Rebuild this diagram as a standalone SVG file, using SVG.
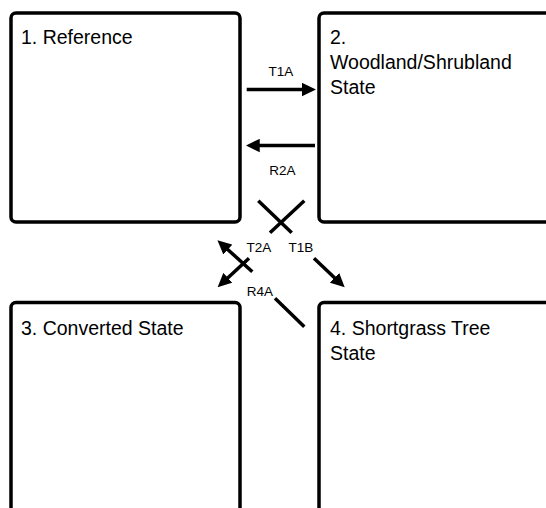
<svg xmlns="http://www.w3.org/2000/svg" width="546" height="508" viewBox="0 0 546 508">
<style>
.box{fill:#fff;stroke:#000;stroke-width:3.5}
.t{font-family:"Liberation Sans",Arial,sans-serif;font-size:19.5px;fill:#000}
.lbl{font-family:"Liberation Sans",Arial,sans-serif;font-size:13.5px;fill:#000;text-anchor:middle}
.c{stroke:#000;stroke-width:3.5;fill:none}
.a{marker-end:url(#ah)}
</style>
<defs>
<marker id="ah" markerUnits="userSpaceOnUse" markerWidth="14" markerHeight="14" viewBox="0 0 12.5 12" refX="4.5" refY="6" orient="auto">
<path d="M0,0 L12.5,6 L0,12 z" fill="#000"/>
</marker>
</defs>
<rect width="546" height="508" fill="#fff"/>
<g id="node1">
<rect class="box" x="11" y="13" width="229" height="209" rx="5"/>
<text class="t" x="21" y="43.5">1. Reference</text>
</g>
<g id="node2">
<rect class="box" x="319" y="13" width="240" height="209" rx="5"/>
<text class="t" x="330" y="43.5">2.</text>
<text class="t" x="330" y="69">Woodland/Shrubland</text>
<text class="t" x="330" y="94">State</text>
</g>
<g id="node3">
<rect class="box" x="11" y="302.5" width="229" height="230" rx="5"/>
<text class="t" x="21" y="334.5">3. Converted State</text>
</g>
<g id="node4">
<rect class="box" x="319" y="302.5" width="240" height="230" rx="5"/>
<text class="t" x="330" y="334.5">4. Shortgrass Tree</text>
<text class="t" x="330" y="359.5">State</text>
</g>
<g id="connectors">
<line class="c a" x1="246.7" y1="89.5" x2="307" y2="89.5"/>
<text class="lbl" x="281" y="76">T1A</text>
<line class="c a" x1="315" y1="145.5" x2="254.7" y2="145.5"/>
<text class="lbl" x="282.5" y="175">R2A</text>
<line class="c" x1="258.3" y1="200.7" x2="291.7" y2="232.7"/>
<line class="c" x1="304.3" y1="200.7" x2="270" y2="232.7"/>
<line class="c a" x1="252.3" y1="271.7" x2="224.1" y2="246.2"/>
<text class="lbl" x="259" y="251.5">T2A</text>
<line class="c a" x1="249" y1="258.3" x2="224.2" y2="281.2"/>
<line class="c a" x1="314" y1="258.3" x2="338.2" y2="281.2"/>
<text class="lbl" x="301" y="251.5">T1B</text>
<line class="c" x1="275" y1="298.3" x2="304.3" y2="326.7"/>
<text class="lbl" x="260" y="295.5">R4A</text>
</g>
</svg>
